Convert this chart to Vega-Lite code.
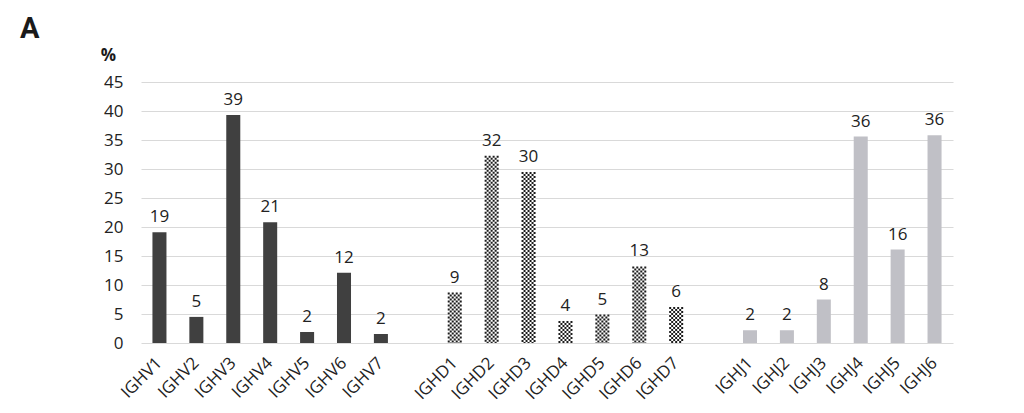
{
  "$schema": "https://vega.github.io/schema/vega-lite/v6.json",
  "width": 812,
  "height": 261,
  "autosize": "none",
  "padding": {"left": 141, "top": 82, "right": 71, "bottom": 70},
  "background": "white",
  "title": {"text": "A", "anchor": "start", "frame": "group", "dx": -121, "offset": 2, "fontSize": 29, "fontWeight": "bold", "font": "Roboto", "color": "#1a1a1a"},
  "config": {"view": {"stroke": null}, "font": "Open Sans"},
  "data": {"values": [
    {"gene": "IGHV1", "group": "V", "value": 19.1, "label": "19"},
    {"gene": "IGHV2", "group": "V", "value": 4.5, "label": "5"},
    {"gene": "IGHV3", "group": "V", "value": 39.3, "label": "39"},
    {"gene": "IGHV4", "group": "V", "value": 20.8, "label": "21"},
    {"gene": "IGHV5", "group": "V", "value": 1.9, "label": "2"},
    {"gene": "IGHV6", "group": "V", "value": 12.1, "label": "12"},
    {"gene": "IGHV7", "group": "V", "value": 1.55, "label": "2"},
    {"gene": "IGHD1", "group": "D", "value": 8.7, "label": "9"},
    {"gene": "IGHD2", "group": "D", "value": 32.3, "label": "32"},
    {"gene": "IGHD3", "group": "D", "value": 29.5, "label": "30"},
    {"gene": "IGHD4", "group": "D", "value": 3.8, "label": "4"},
    {"gene": "IGHD5", "group": "D", "value": 4.9, "label": "5"},
    {"gene": "IGHD6", "group": "D", "value": 13.2, "label": "13"},
    {"gene": "IGHD7", "group": "D", "value": 6.2, "label": "6"},
    {"gene": "IGHJ1", "group": "J", "value": 2.2, "label": "2"},
    {"gene": "IGHJ2", "group": "J", "value": 2.2, "label": "2"},
    {"gene": "IGHJ3", "group": "J", "value": 7.5, "label": "8"},
    {"gene": "IGHJ4", "group": "J", "value": 35.6, "label": "36"},
    {"gene": "IGHJ5", "group": "J", "value": 16.1, "label": "16"},
    {"gene": "IGHJ6", "group": "J", "value": 35.8, "label": "36"}
  ]},
  "encoding": {
    "x": {
      "field": "gene", "type": "nominal", "sort": null,
      "scale": {"domain": ["IGHV1","IGHV2","IGHV3","IGHV4","IGHV5","IGHV6","IGHV7","_a","IGHD1","IGHD2","IGHD3","IGHD4","IGHD5","IGHD6","IGHD7","_b","IGHJ1","IGHJ2","IGHJ3","IGHJ4","IGHJ5","IGHJ6"], "paddingInner": 0.62, "paddingOuter": 0.31},
      "axis": {"title": null, "domain": false, "ticks": false, "labelAngle": -45, "labelAlign": "right", "labelBaseline": "middle", "labelFontSize": 17, "labelColor": "#222222", "labelPadding": 17, "labelFont": "Open Sans", "labelOverlap": false, "labelExpr": "indexof(datum.label, '_') == 0 ? '' : datum.label"}
    },
    "y": {"field": "value", "type": "quantitative", "scale": {"domain": [0, 45], "nice": false, "zero": true},
      "axis": {"values": [0,5,10,15,20,25,30,35,40,45], "labelOverlap": false, "grid": true, "gridColor": "#d9d9d9", "gridWidth": 1, "domain": false, "ticks": false, "labelPadding": 18, "labelFontSize": 17, "labelColor": "#222222", "labelFont": "Open Sans",
        "title": "%", "titleAngle": 0, "titleX": -33, "titleY": -27, "titleAlign": "center", "titleBaseline": "middle", "titleFontSize": 17, "titleFontWeight": "bold", "titleColor": "#1a1a1a", "titleFont": "Open Sans"}}
  },
  "layer": [
    {
      "mark": {"type": "bar"},
      "encoding": {
        "color": {"field": "group", "type": "nominal", "scale": {"domain": ["V","D","J"], "range": ["#404040", "#ffffff", "#c0c0c6"]}, "legend": null}
      }
    },
    {
      "transform": [{"filter": "datum.group == 'D'"}],
      "encoding": {
        "y2": {"datum": 0}
      },
      "layer": [
        {"mark": {"type": "rule", "color": "#1c1c1c", "strokeWidth": 2, "strokeDash": [2, 2], "strokeDashOffset": 0, "xOffset": -6}},
        {"mark": {"type": "rule", "color": "#1c1c1c", "strokeWidth": 2, "strokeDash": [2, 2], "strokeDashOffset": 2, "xOffset": -4}},
        {"mark": {"type": "rule", "color": "#1c1c1c", "strokeWidth": 2, "strokeDash": [2, 2], "strokeDashOffset": 0, "xOffset": -2}},
        {"mark": {"type": "rule", "color": "#1c1c1c", "strokeWidth": 2, "strokeDash": [2, 2], "strokeDashOffset": 2, "xOffset": 0}},
        {"mark": {"type": "rule", "color": "#1c1c1c", "strokeWidth": 2, "strokeDash": [2, 2], "strokeDashOffset": 0, "xOffset": 2}},
        {"mark": {"type": "rule", "color": "#1c1c1c", "strokeWidth": 2, "strokeDash": [2, 2], "strokeDashOffset": 2, "xOffset": 4}},
        {"mark": {"type": "rule", "color": "#1c1c1c", "strokeWidth": 2, "strokeDash": [2, 2], "strokeDashOffset": 0, "xOffset": 6}}
      ]
    },
    {
      "mark": {"type": "text", "baseline": "bottom", "dy": -6, "fontSize": 17, "color": "#222222", "font": "Open Sans"},
      "encoding": {
        "text": {"field": "label"}
      }
    }
  ]
}
